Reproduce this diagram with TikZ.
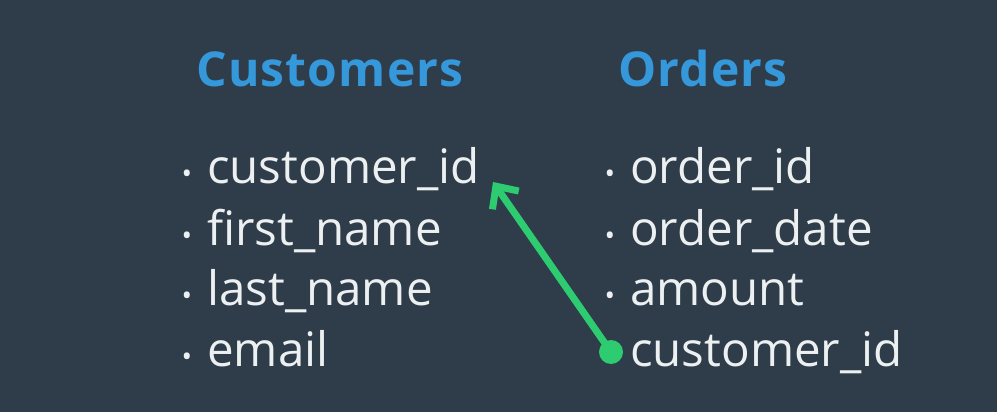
\documentclass[tikz,border=0pt]{standalone}
\usepackage{fontspec}
\setmainfont{Open Sans}
\usetikzlibrary{arrows.meta}
\definecolor{slate}{HTML}{2F3D4B}
\definecolor{titleblue}{HTML}{3498DB}
\definecolor{keygreen}{HTML}{2ECC71}
\definecolor{itemwhite}{HTML}{ECF0F1}
\tikzset{
	table title/.style={anchor=base, text=titleblue, inner sep=0pt, font=\fontsize{48}{52}\selectfont\bfseries\addfontfeature{LetterSpace=2.5}},
	field/.style={anchor=base west, text=itemwhite, inner sep=0pt, font=\fontsize{47.5}{52}\selectfont},
	bullet/.style={anchor=base, text=itemwhite, inner sep=0pt, font=\fontsize{28}{32}\selectfont},
}

\begin{document}
\begin{tikzpicture}[x=1pt, y=-1pt]

	\fill[slate] (0, 0) rectangle (997, 412);
	\useasboundingbox (0, 0) rectangle (997, 412);

	\node[table title] (customers) at (330, 87) {Customers};
	\node[table title] (orders) at (703, 87) {Orders};

	\node[bullet] (cb1) at (187, 183) {•};
	\node[bullet] (cb2) at (187, 245) {•};
	\node[bullet] (cb3) at (187, 305) {•};
	\node[bullet] (cb4) at (187, 366) {•};
	\node[field] (cid) at (207, 183) {customer\_id};
	\node[field] (cfirst) at (207, 245) {first\_name};
	\node[field] (clast) at (207, 305) {last\_name};
	\node[field] (cemail) at (207, 366) {email};

	\node[bullet] (ob1) at (610, 183) {•};
	\node[bullet] (ob2) at (610, 245) {•};
	\node[bullet] (ob3) at (610, 305) {•};
	\node[shape=circle, fill=keygreen, inner sep=0pt, minimum size=24pt] (okey) at (611, 352) {};
	\node[field] (oid) at (630, 183) {order\_id};
	\node[field] (odate) at (630, 245) {order\_date};
	\node[field] (oamount) at (630, 305) {amount};
	\node[field] (ocid) at (630, 366) {customer\_id};

	\coordinate (ctip) at (493, 182);
	\path[keygreen, line width=7pt, -{Straight Barb[length=17pt, width=32pt, line cap=butt, line join=miter]}] (okey.center) edge (ctip);

\end{tikzpicture}
\end{document}
